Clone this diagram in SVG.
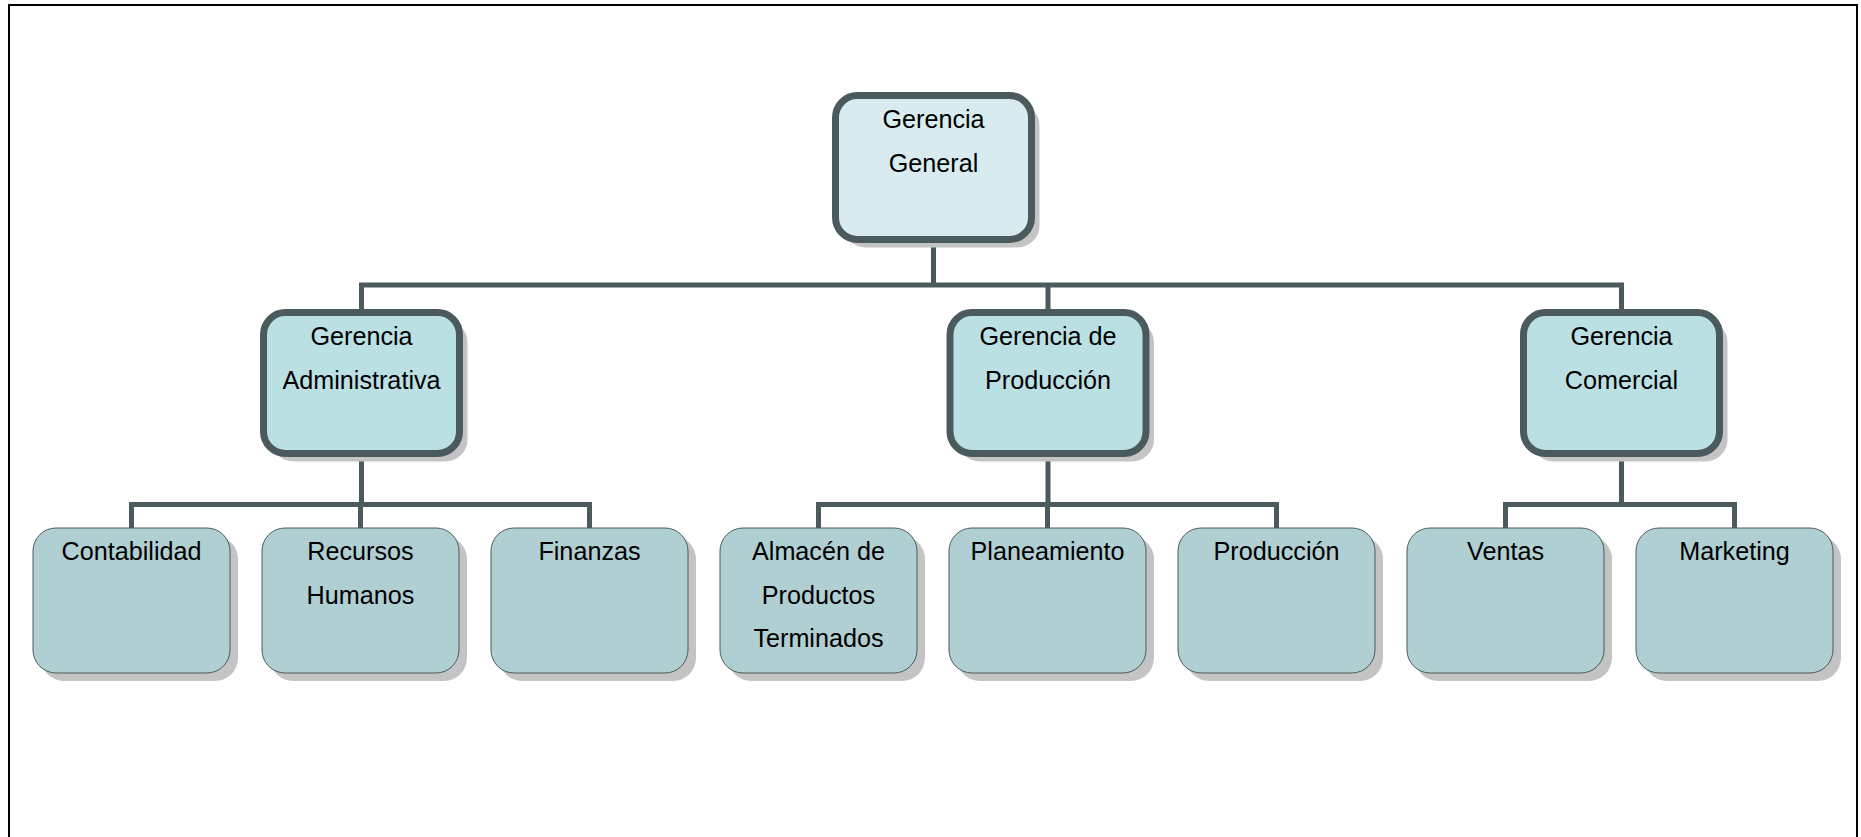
<svg xmlns="http://www.w3.org/2000/svg" width="1861" height="837" viewBox="0 0 1861 837">
  <style>
    text { font-family: "Liberation Sans", Arial, sans-serif; font-size: 25.2px; fill: #000; text-anchor: middle; }
    .shadow { fill: #c4c4c4; }
    .head { stroke: #4b5a5c; stroke-width: 7; }
    .top { fill: #d8ecef; }
    .mid { fill: #bae0e4; }
    .leaf { fill: #afcfd2; stroke: #4b5a5c; stroke-width: 1; }
    .conn { fill: none; stroke: #4b5a5c; stroke-width: 5; stroke-linejoin: miter; stroke-linecap: butt; }
  </style>

  <rect x="0" y="0" width="1861" height="837" fill="#fff"/>
  <!-- page frame -->
  <rect x="9" y="5" width="1848" height="860" fill="none" stroke="#000" stroke-width="2"/>

  <!-- connectors -->
  <g id="connectors" class="conn">
    <path d="M933.5 243 V285 M361.5 309 V285 H1621.5 V309 M1048 285 V309"/>
    <path d="M361.5 457 V504.5 M131.5 528 V504.5 H589.5 V528 M360.5 504.5 V528"/>
    <path d="M1048 457 V504.5 M818.5 528 V504.5 H1276.5 V528 M1047.5 504.5 V528"/>
    <path d="M1621.5 457 V504.5 M1505.5 528 V504.5 H1734.5 V528"/>
  </g>

  <!-- top level -->
  <g id="gerencia-general">
    <rect class="shadow" x="843.5" y="103.5" width="196" height="144" rx="22"/>
    <rect class="head top" x="835.5" y="95.5" width="196" height="144" rx="22"/>
    <text x="933.5" y="128">Gerencia</text>
    <text x="933.5" y="172">General</text>
  </g>

  <!-- second level -->
  <g id="gerencia-administrativa">
    <rect class="shadow" x="271.5" y="320.5" width="196" height="141" rx="22"/>
    <rect class="head mid" x="263.5" y="312.5" width="196" height="141" rx="22"/>
    <text x="361.5" y="345">Gerencia</text>
    <text x="361.5" y="389">Administrativa</text>
  </g>
  <g id="gerencia-produccion">
    <rect class="shadow" x="958" y="320.5" width="196" height="141" rx="22"/>
    <rect class="head mid" x="950" y="312.5" width="196" height="141" rx="22"/>
    <text x="1048" y="345">Gerencia de</text>
    <text x="1048" y="389">Producción</text>
  </g>
  <g id="gerencia-comercial">
    <rect class="shadow" x="1531.5" y="320.5" width="196" height="141" rx="22"/>
    <rect class="head mid" x="1523.5" y="312.5" width="196" height="141" rx="22"/>
    <text x="1621.5" y="345">Gerencia</text>
    <text x="1621.5" y="389">Comercial</text>
  </g>

  <!-- third level -->
  <g id="contabilidad">
    <rect class="shadow" x="41" y="536" width="197" height="145" rx="23"/>
    <rect class="leaf" x="33" y="528" width="197" height="145" rx="23"/>
    <text x="131.5" y="560">Contabilidad</text>
  </g>
  <g id="recursos-humanos">
    <rect class="shadow" x="270" y="536" width="197" height="145" rx="23"/>
    <rect class="leaf" x="262" y="528" width="197" height="145" rx="23"/>
    <text x="360.5" y="560">Recursos</text>
    <text x="360.5" y="604">Humanos</text>
  </g>
  <g id="finanzas">
    <rect class="shadow" x="499" y="536" width="197" height="145" rx="23"/>
    <rect class="leaf" x="491" y="528" width="197" height="145" rx="23"/>
    <text x="589.5" y="560">Finanzas</text>
  </g>
  <g id="almacen">
    <rect class="shadow" x="728" y="536" width="197" height="145" rx="23"/>
    <rect class="leaf" x="720" y="528" width="197" height="145" rx="23"/>
    <text x="818.5" y="560">Almacén de</text>
    <text x="818.5" y="604">Productos</text>
    <text x="818.5" y="647">Terminados</text>
  </g>
  <g id="planeamiento">
    <rect class="shadow" x="957" y="536" width="197" height="145" rx="23"/>
    <rect class="leaf" x="949" y="528" width="197" height="145" rx="23"/>
    <text x="1047.5" y="560">Planeamiento</text>
  </g>
  <g id="produccion">
    <rect class="shadow" x="1186" y="536" width="197" height="145" rx="23"/>
    <rect class="leaf" x="1178" y="528" width="197" height="145" rx="23"/>
    <text x="1276.5" y="560">Producción</text>
  </g>
  <g id="ventas">
    <rect class="shadow" x="1415" y="536" width="197" height="145" rx="23"/>
    <rect class="leaf" x="1407" y="528" width="197" height="145" rx="23"/>
    <text x="1505.5" y="560">Ventas</text>
  </g>
  <g id="marketing">
    <rect class="shadow" x="1644" y="536" width="197" height="145" rx="23"/>
    <rect class="leaf" x="1636" y="528" width="197" height="145" rx="23"/>
    <text x="1734.5" y="560">Marketing</text>
  </g>
</svg>
